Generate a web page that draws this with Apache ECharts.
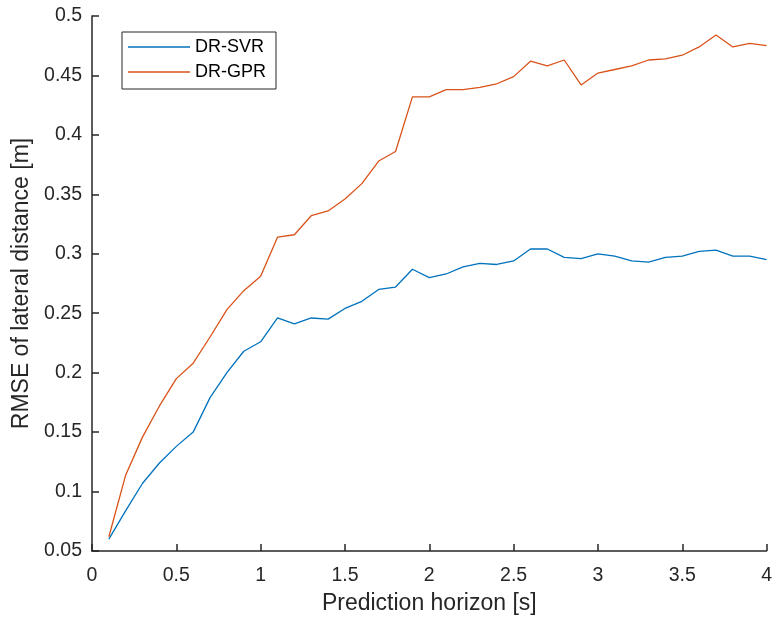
<!DOCTYPE html>
<html>
<head>
<meta charset="utf-8">
<script src="https://cdn.jsdelivr.net/npm/echarts@6/dist/echarts.min.js"></script>
<style>html,body{margin:0;padding:0;background:#fff}#c{width:775px;height:620px}</style>
</head>
<body>
<div id="c"></div>
<script>
var horizon = [0.1,0.2,0.3,0.4,0.5,0.6,0.7,0.8,0.9,1.0,1.1,1.2,1.3,1.4,1.5,1.6,1.7,1.8,1.9,2.0,2.1,2.2,2.3,2.4,2.5,2.6,2.7,2.8,2.9,3.0,3.1,3.2,3.3,3.4,3.5,3.6,3.7,3.8,3.9,4.0];
var svr = [0.060,0.084,0.107,0.124,0.138,0.150,0.179,0.200,0.218,0.226,0.246,0.241,0.246,0.245,0.254,0.260,0.270,0.272,0.287,0.280,0.283,0.289,0.292,0.291,0.294,0.304,0.304,0.297,0.296,0.300,0.298,0.294,0.293,0.297,0.298,0.302,0.303,0.298,0.298,0.295];
var gpr = [0.062,0.114,0.146,0.172,0.195,0.208,0.230,0.253,0.269,0.281,0.314,0.316,0.332,0.336,0.346,0.359,0.378,0.386,0.432,0.432,0.438,0.438,0.440,0.443,0.449,0.462,0.458,0.463,0.442,0.452,0.455,0.458,0.463,0.464,0.467,0.474,0.484,0.474,0.477,0.475];
var seriesNames = ['DR-SVR','DR-GPR'];
var xTitle = 'Prediction horizon [s]';
var yTitle = 'RMSE of lateral distance [m]';

function pairs(ys){ return horizon.map(function(x,i){ return [x, ys[i]]; }); }
var axisColor = '#262626';
var font = 'Liberation Sans, Arial, Helvetica, sans-serif';
var chart = echarts.init(document.getElementById('c'), null, {renderer:'canvas'});
chart.setOption({
  animation: false,
  backgroundColor: '#fff',
  grid: {left: 92, right: 2.5, top: 16, bottom: 68, containLabel: false},
  legend: {
    orient: 'vertical', left: 122, top: 32,
    padding: [6, 10, 8, 6],
    itemGap: 7, itemWidth: 62, itemHeight: 1.6, icon: 'rect',
    borderColor: axisColor, borderWidth: 1, backgroundColor: '#fff',
    textStyle: {fontFamily: font, fontSize: 18, color: '#000', padding: [0,0,0,0]},
    data: seriesNames
  },
  xAxis: {
    type: 'value', min: 0, max: 4, interval: 0.5,
    name: xTitle, nameLocation: 'middle', nameGap: 41,
    nameTextStyle: {fontFamily: font, fontSize: 23, color: axisColor},
    axisLine: {show: true, onZero: false, lineStyle: {color: axisColor, width: 1.5}},
    axisTick: {show: true, inside: true, length: 7, lineStyle: {color: axisColor, width: 1.5}},
    axisLabel: {fontFamily: font, fontSize: 19.5, color: axisColor, margin: 15,
      formatter: function(v){ return String(parseFloat(v.toFixed(2))); }},
    splitLine: {show: false}
  },
  yAxis: {
    type: 'value', min: 0.05, max: 0.5, interval: 0.05,
    name: yTitle, nameLocation: 'middle', nameGap: 56, nameRotate: 90,
    nameTextStyle: {fontFamily: font, fontSize: 23, color: axisColor},
    axisLine: {show: true, onZero: false, lineStyle: {color: axisColor, width: 1.5}},
    axisTick: {show: true, inside: true, length: 7, lineStyle: {color: axisColor, width: 1.5}},
    axisLabel: {fontFamily: font, fontSize: 19.5, color: axisColor, margin: 10,
      formatter: function(v){ return String(parseFloat(v.toFixed(2))); }},
    splitLine: {show: false}
  },
  series: [
    {name: seriesNames[0], type: 'line', data: pairs(svr), showSymbol: false, symbol: 'none',
     lineStyle: {color: '#0072BD', width: 1.3}, itemStyle: {color: '#0072BD'}},
    {name: seriesNames[1], type: 'line', data: pairs(gpr), showSymbol: false, symbol: 'none',
     lineStyle: {color: '#D95319', width: 1.3}, itemStyle: {color: '#D95319'}}
  ]
});
</script>
</body>
</html>
